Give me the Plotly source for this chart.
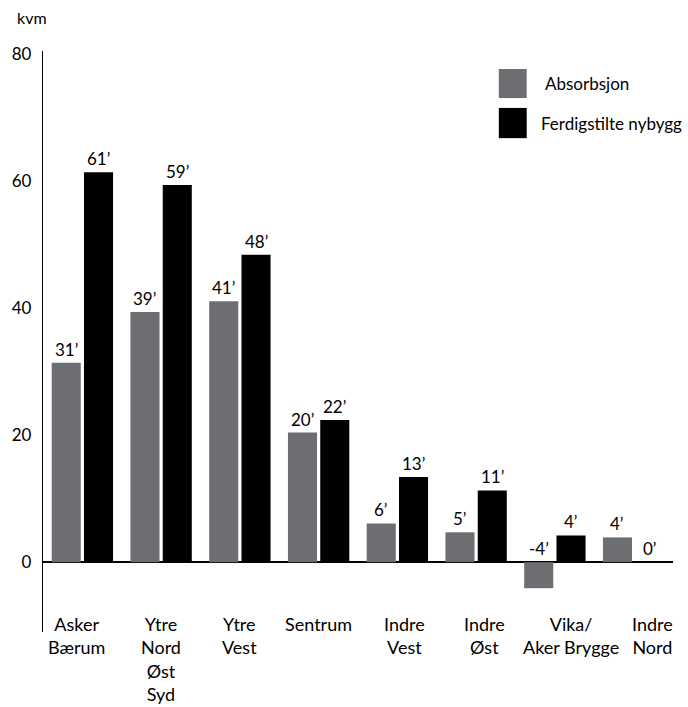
import plotly.graph_objects as go

# Office space by area: net absorption vs. completed new builds (thousand sqm)
categories = ["Asker<br>Bærum", "Ytre<br>Nord<br>Øst<br>Syd", "Ytre<br>Vest", "Sentrum",
              "Indre<br>Vest", "Indre<br>Øst", "Vika/<br>Aker Brygge", "Indre<br>Nord"]
absorbsjon = [31.4, 39.4, 41.1, 20.4, 6.1, 4.7, -4.1, 3.9]
ferdigstilte = [61.4, 59.4, 48.4, 22.4, 13.4, 11.3, 4.2, 0.0]
series_names = ["Absorbsjon", "Ferdigstilte nybygg"]
y_ticks = [0, 20, 40, 60, 80]

# horizontal nudges (px) for the category captions under each group
caption_shift = [-6, 0, 0, 0, 7, 8, 16, 19]

GRAY = "#6d6e71"
BLACK = "#000000"
FONT = "Lato"

fig = go.Figure()
fig.add_trace(go.Bar(x=categories, y=absorbsjon, name=series_names[0],
                     marker=dict(color=GRAY, line=dict(width=0))))
fig.add_trace(go.Bar(x=categories, y=ferdigstilte, name=series_names[1],
                     marker=dict(color=BLACK, line=dict(width=0))))

# value labels sit just above each bar (or above the zero line for negatives)
annotations = []
for series, shift in ((absorbsjon, -16.2), (ferdigstilte, 16.2)):
    for cat, v in zip(categories, series):
        annotations.append(dict(
            x=cat, y=max(v, 0), xref="x", yref="y", xshift=shift, yshift=1,
            text=f"{round(v)}\u2019", showarrow=False, xanchor="center", yanchor="bottom",
            font=dict(family=FONT, size=17, color="black")))

# category captions below the zero line
for cat, dx in zip(categories, caption_shift):
    annotations.append(dict(
        x=cat, y=0.037, xref="x", yref="paper", xshift=dx, text=cat,
        showarrow=False, xanchor="center", yanchor="top", align="center",
        font=dict(family=FONT, size=18, color="black")))

# unit label
annotations.append(dict(x=-0.044, y=1.057, xref="paper", yref="paper", text="kvm",
                        showarrow=False, xanchor="left", yanchor="middle",
                        font=dict(family=FONT, size=16, color="black")))

# legend built from large swatches
legend_rows = [(series_names[0], GRAY, 0.919, 0.969, 0.7940),
               (series_names[1], BLACK, 0.850, 0.902, 0.7880)]
shapes = []
for name, color, y0, y1, tx in legend_rows:
    shapes.append(dict(type="rect", xref="paper", yref="paper", x0=0.7235, x1=0.7678,
                       y0=y0, y1=y1, fillcolor=color, line=dict(width=0)))
    annotations.append(dict(x=tx, y=(y0 + y1) / 2, xref="paper", yref="paper", text=name,
                            showarrow=False, xanchor="left", yanchor="middle",
                            font=dict(family=FONT, size=17, color="black")))

fig.update_layout(
    width=688, height=707,
    margin=dict(l=40, r=15, t=51, b=75),
    paper_bgcolor="white", plot_bgcolor="white",
    barmode="group", bargap=0.18, bargroupgap=0.1,
    showlegend=False,
    font=dict(family=FONT, size=17, color="black"),
    annotations=annotations, shapes=shapes,
    xaxis=dict(type="category", range=[-0.5, 7.5], showline=False, showgrid=False,
               ticks="", showticklabels=False),
    yaxis=dict(range=[-11.0, 80.5], tickvals=y_ticks, showgrid=False,
               showline=True, linecolor="black", linewidth=1.3,
               zeroline=True, zerolinecolor="black", zerolinewidth=1.5,
               ticks="outside", ticklen=7, tickcolor="rgba(0,0,0,0)",
               tickfont=dict(family=FONT, size=17, color="black")),
)

fig.write_html("out.html")
